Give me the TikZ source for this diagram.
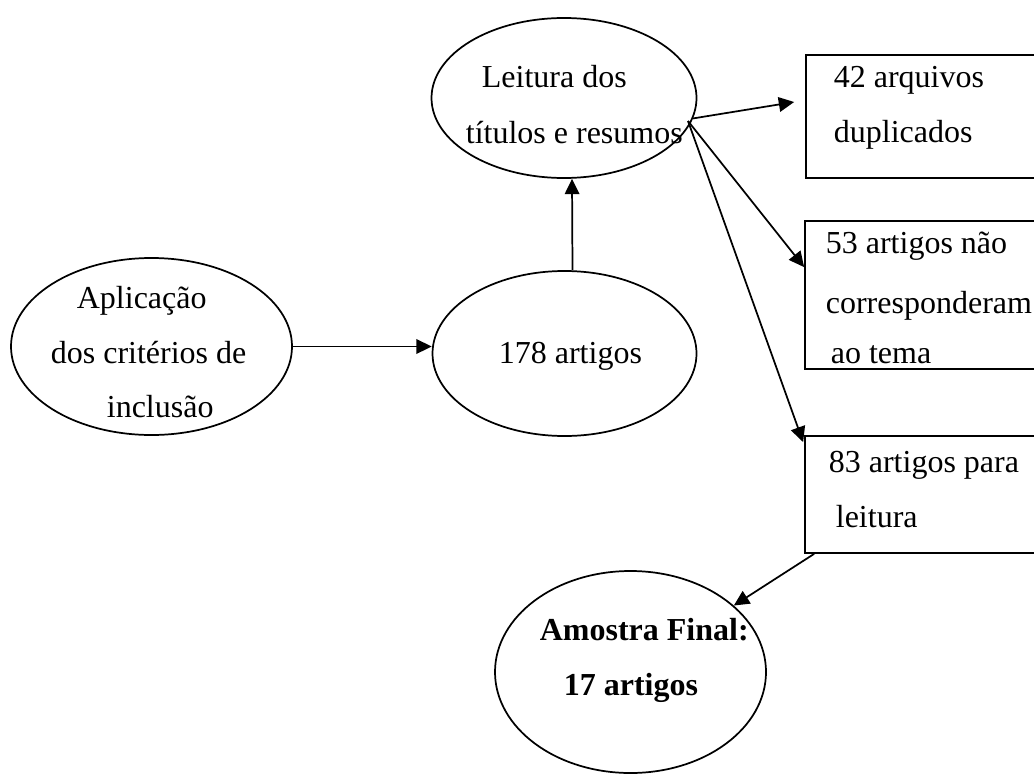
\documentclass[tikz,border=0pt]{standalone}
\usepackage{fontspec}
\setmainfont{Liberation Serif}
\usetikzlibrary{shapes.geometric,arrows.meta}
\begin{document}
\begin{tikzpicture}[x=0.75pt,y=-0.75pt,
  line width=1.3pt,
  oval/.style={draw,ellipse,inner sep=0pt},
  boxnode/.style={draw,rectangle,inner sep=0pt},
  txt/.style={anchor=base west,inner sep=0pt,font=\fontsize{24pt}{29pt}\selectfont},
  btxt/.style={txt,font=\fontsize{24pt}{29pt}\selectfont\bfseries},
  arr/.style={-{Triangle[length=11.5pt,width=11pt]}}]
\useasboundingbox (0,0) rectangle (1034,774);
\clip (0,0) rectangle (1034,774);
% shapes
\node[oval,minimum width=210.75pt,minimum height=132.75pt] (ap) at (151.5,346.5) {};
\node[oval,minimum width=198.75pt,minimum height=120pt] (leit) at (564,98) {};
\node[oval,minimum width=198pt,minimum height=123.75pt] (a178) at (564.5,353.5) {};
\node[oval,minimum width=203.25pt,minimum height=151.5pt] (amostra) at (630.5,672) {};
\node[boxnode,minimum width=175.5pt,minimum height=92.25pt] (box1) at (923,116.5) {};
\node[boxnode,minimum width=176.25pt,minimum height=111pt] (box2) at (922.5,295) {};
\node[boxnode,minimum width=176.25pt,minimum height=87.75pt] (box3) at (922.5,494.5) {};
% texts
\node[txt] (ap1) at (76,308) {Aplicação};
\node[txt] (ap2) at (50,363) {dos critérios de};
\node[txt] (ap3) at (106,417) {inclusão};
\node[txt] (le1) at (481,88) {Leitura dos};
\node[txt] (le2) at (465,143) {títulos e resumos};
\node[txt] (t178) at (498,363) {178 artigos};
\node[txt] (b11) at (833,87) {42 arquivos};
\node[txt] (b12) at (833,142) {duplicados};
\node[txt] (b21) at (825,253) {53 artigos não};
\node[txt] (b22) at (825,313) {corresponderam};
\node[txt] (b23) at (830,363) {ao tema};
\node[txt] (b31) at (828,472) {83 artigos para};
\node[txt] (b32) at (835,527) {leitura};
\node[btxt] (am1) at (539,640) {Amostra Final:};
\node[btxt] (am2) at (563,695) {17 artigos};
% connectors
\coordinate (fork) at (688,121);
\draw[arr] (ap.east) -- (ap.east -| a178.west);
\draw[arr] ([xshift=6pt]a178.north) -- ([xshift=6pt]leit.south);
\draw[arr] (leit.-9) -- ([shift={(-11,-14.5)}]box1.west);
\draw[arr] (fork) -- ([shift={(0,47)}]box2.north west);
\draw[arr] (fork) -- ([shift={(-1,7)}]box3.north west);
\draw[arr] ([xshift=7.5pt]box3.south west) -- (amostra);
\end{tikzpicture}
\end{document}
